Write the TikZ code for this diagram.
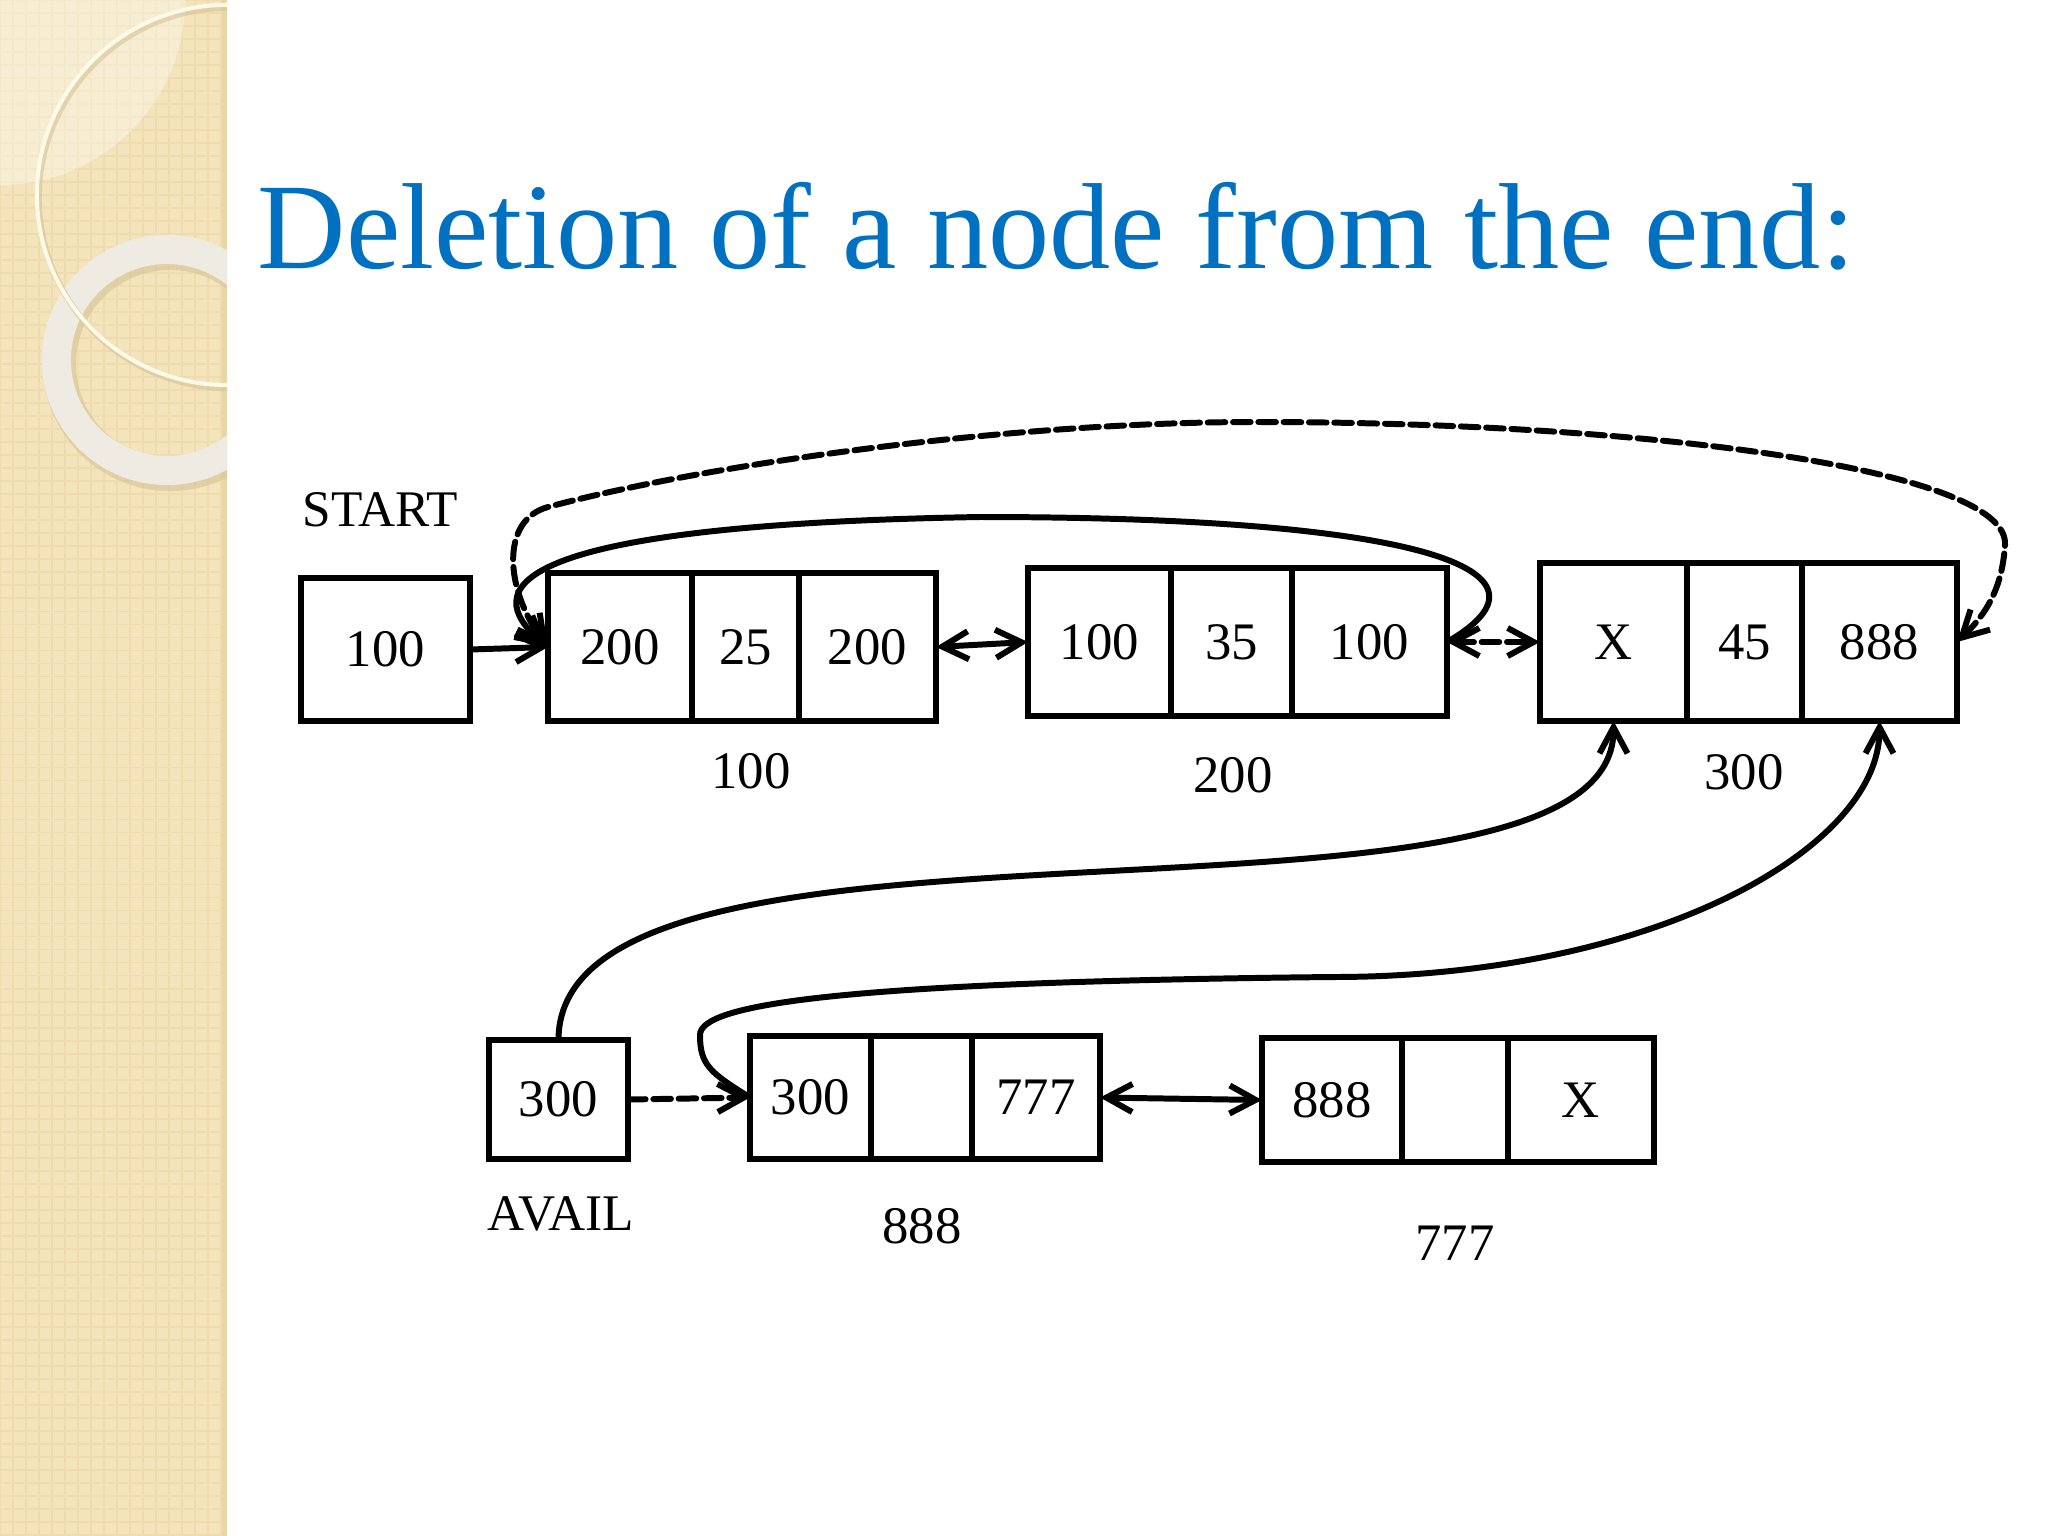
\documentclass[tikz,border=0pt]{standalone}
\usepackage{fontspec}
\setmainfont{Liberation Serif}
\usetikzlibrary{arrows.meta}

\definecolor{titleBlue}{HTML}{0070C0}
\definecolor{sideTan}{HTML}{F4E4BB}
\definecolor{sideGrid}{HTML}{EEDCAF}
\definecolor{sideEdge}{HTML}{E8D6A6}
\definecolor{ringCream}{HTML}{FFF9EA}
\definecolor{ringGray}{HTML}{EEEBE2}
\definecolor{ringShade}{HTML}{D5C499}

\begin{document}
\begin{tikzpicture}[x=0.01cm, y=-0.01cm, font=\fontsize{15}{18}\selectfont,
  >={Straight Barb[length=2.6mm, width=2.8mm]},
  cell/.style={draw, line width=1.7pt, fill=white, inner sep=0pt, outer sep=0pt},
  lbl/.style={inner sep=0pt},
  link/.style={line width=1.7pt, line cap=round},
  old/.style={link, dash pattern=on 5pt off 2.2pt}]

\useasboundingbox (0,0) rectangle (2048,1536);

% side bar
\fill[sideTan] (0,0) rectangle (227,1536);
\draw[sideGrid, line width=0.5pt, step=0.13cm] (0,0) grid (227,1536);
\fill[sideEdge] (222,0) rectangle (227,1536);
\begin{scope}
  \clip (0,0) rectangle (227,1536);
  \fill[white, opacity=0.35] (0,0) circle (1.85cm);
  \draw[ringShade, opacity=0.6, line width=0.33cm] (170,364) circle (1.105cm);
  \draw[ringGray, line width=0.29cm] (167,360) circle (1.105cm);
  \draw[ringShade, opacity=0.6, line width=0.06cm] (229,198) circle (1.90cm);
  \draw[ringCream, line width=0.04cm] (227,195) circle (1.90cm);
\end{scope}

% title
\node[lbl, anchor=base west, text=titleBlue, font=\fontsize{34.8}{41}\selectfont] (title) at (257,268) {Deletion of a node from the end:};

% ===== top list =====
\node[lbl, anchor=base west, font=\fontsize{14.6}{18}\selectfont] (startlbl) at (302,526) {START};
\node[cell, minimum width=1.69cm, minimum height=1.43cm] (start) at (385.5,649.5) {100};

\node[cell, minimum width=1.44cm, minimum height=1.48cm] (n100a) at (620,647)   {200};
\node[cell, minimum width=1.07cm, minimum height=1.48cm] (n100b) at (745.5,647) {25};
\node[cell, minimum width=1.37cm, minimum height=1.48cm] (n100c) at (867.5,647) {200};
\node[lbl, anchor=base] (addr100) at (751,788) {100};

\node[cell, minimum width=1.43cm, minimum height=1.48cm] (n200a) at (1099.5,642) {100};
\node[cell, minimum width=1.21cm, minimum height=1.48cm] (n200b) at (1231.5,642) {35};
\node[cell, minimum width=1.55cm, minimum height=1.48cm] (n200c) at (1369.5,642) {100};
\node[lbl, anchor=base] (addr200) at (1233,792) {200};

\node[cell, minimum width=1.47cm, minimum height=1.58cm] (n300a) at (1613.5,642) {X};
\node[cell, minimum width=1.15cm, minimum height=1.58cm] (n300b) at (1744.5,642) {45};
\node[cell, minimum width=1.55cm, minimum height=1.58cm] (n300c) at (1879.5,642) {888};
\node[lbl, anchor=base] (addr300) at (1744,789) {300};

% ===== free list =====
\node[cell, minimum width=1.39cm, minimum height=1.19cm] (avail) at (558.5,1099.5) {300};
\node[lbl, anchor=base west, font=\fontsize{14.6}{18}\selectfont] (availlbl) at (487,1230) {AVAIL};

\node[cell, minimum width=1.21cm, minimum height=1.23cm] (n888a) at (810.5,1097.5) {300};
\node[cell, minimum width=1.01cm, minimum height=1.23cm] (n888b) at (921.5,1097.5) {};
\node[cell, minimum width=1.28cm, minimum height=1.23cm] (n888c) at (1036,1097.5)  {777};
\node[lbl, anchor=base] (addr888) at (922,1243) {888};

\node[cell, minimum width=1.40cm, minimum height=1.24cm] (n777a) at (1332,1100) {888};
\node[cell, minimum width=1.06cm, minimum height=1.24cm] (n777b) at (1455,1100) {};
\node[cell, minimum width=1.46cm, minimum height=1.24cm] (n777c) at (1581,1100) {X};
\node[lbl, anchor=base] (addr777) at (1455,1260) {777};

% links
\coordinate (ctop) at (980,517);
\coordinate (dr)   at (2005,545);
\coordinate (dpk)  at (1256,422);
\coordinate (dl)   at (548,507);
\coordinate (bc)   at (700,1035);
\coordinate (bmid) at (1333,977);

\draw[link, ->] (start.east) -- (n100a.west);
\draw[link, <->] (n100c.east) -- (n200a.west);
\draw[old, <->] (n200c.east) -- (n300a.west);
\draw[link, ->] (n200c.east) .. controls +(125,-72) and +(440,0) .. (ctop)
  .. controls +(-480,8) and +(-68,-57) .. (n100a.west);
\draw[old, <->] (n300c.east) .. controls +(28,-27) and +(-3,45) .. (dr)
  .. controls +(5,-75) and +(394,0) .. (dpk)
  .. controls +(-256,0) and +(152,-41) .. (dl)
  .. controls +(-48,13) and +(-43,-57) .. (n100a.west);

\draw[old, ->] (avail.east) -- (n888a.west);
\draw[link, <->] (n888c.east) -- (n777a.west);
\draw[link, ->] (avail.north) .. controls +(0,-270) and +(0,245) .. (n300a.south);
\draw[link, ->] (n888a.west) .. controls +(-40,-25) and +(0,30) .. (bc)
  .. controls +(0,-30) and +(-500,5) .. (bmid)
  .. controls +(317,0) and +(0,129) .. (n300c.south);

\end{tikzpicture}
\end{document}
